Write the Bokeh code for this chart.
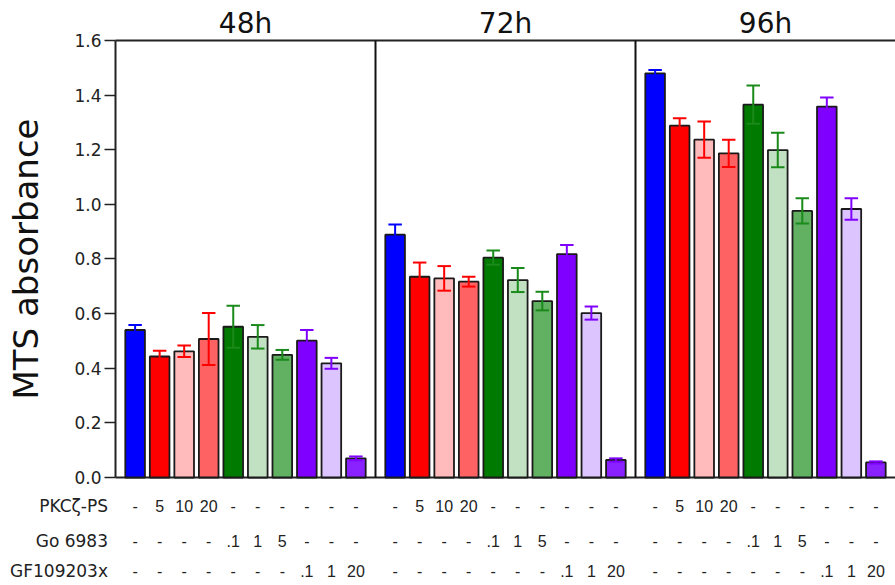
import math
from bokeh.plotting import figure
from bokeh.models import Range1d, FixedTicker, ColumnDataSource, NumeralTickFormatter
from bokeh.core.properties import value
from bokeh.embed import file_html
from bokeh.resources import INLINE

# ---------------- data ----------------
panels = ["48h", "72h", "96h"]
conditions = ["Control", "PKCζ-PS 5", "PKCζ-PS 10", "PKCζ-PS 20",
              "Go 6983 .1", "Go 6983 1", "Go 6983 5",
              "GF109203x .1", "GF109203x 1", "GF109203x 20"]
means_48 = [0.540, 0.443, 0.462, 0.507, 0.552, 0.515, 0.449, 0.501, 0.418, 0.070]
err_48 = [0.018, 0.021, 0.021, 0.095, 0.077, 0.043, 0.018, 0.039, 0.020, 0.007]
means_72 = [0.889, 0.735, 0.729, 0.717, 0.805, 0.723, 0.646, 0.818, 0.602, 0.064]
err_72 = [0.037, 0.052, 0.045, 0.018, 0.026, 0.044, 0.034, 0.033, 0.024, 0.006]
means_96 = [1.480, 1.288, 1.237, 1.187, 1.365, 1.199, 0.976, 1.358, 0.983, 0.055]
err_96 = [0.012, 0.027, 0.066, 0.050, 0.070, 0.063, 0.046, 0.033, 0.039, 0.004]

row_names = ["PKCζ-PS", "Go 6983", "GF109203x"]
pkc_doses = ["-", "5", "10", "20", "-", "-", "-", "-", "-", "-"]
go_doses = ["-", "-", "-", "-", ".1", "1", "5", "-", "-", "-"]
gf_doses = ["-", "-", "-", "-", "-", "-", "-", ".1", "1", "20"]

y_ticks = [0.0, 0.2, 0.4, 0.6, 0.8, 1.0, 1.2, 1.4, 1.6]
y_label = "MTS absorbance"

# ---------------- styles / layout ----------------
fill_colors = ["#0000FF", "#FF0000", "#FFBBBB", "#FF6262", "#007A00",
               "#C2E0C2", "#62B062", "#7F00FF", "#DCC4FF", "#8A22FF"]
err_colors = ["#0000FF", "#FF0000", "#FF0000", "#FF0000", "#1A8A1A",
              "#1A8A1A", "#1A8A1A", "#7F00FF", "#7F00FF", "#7F00FF"]
PANEL_W = 10.6
OFFSET = 0.8
BAR_W = 0.8
CAP_W = 0.55
Y_MAX = 1.6
X_START = -4.6885
Y_START = -0.3955
Y_END = 1.7465
ROW_Y = [-0.106, -0.231, -0.341]
ROW_LABEL_X = -0.306
TITLE_Y = 1.664
YLABEL_X = -3.65
YLABEL_Y = 0.80

all_means = [means_48, means_72, means_96]
all_errs = [err_48, err_72, err_96]
all_doses = [pkc_doses, go_doses, gf_doses]

xs, tops, cols, ecols, lo, hi = [], [], [], [], [], []
for pi, (m, e) in enumerate(zip(all_means, all_errs)):
    for k in range(len(conditions)):
        x = pi * PANEL_W + OFFSET + k
        xs.append(x)
        tops.append(m[k])
        cols.append(fill_colors[k])
        ecols.append(err_colors[k])
        lo.append(m[k] - e[k])
        hi.append(m[k] + e[k])

src = ColumnDataSource(dict(x=xs, top=tops, color=cols, ecolor=ecols, lo=lo, hi=hi,
                            cl=[x - CAP_W / 2 for x in xs], cr=[x + CAP_W / 2 for x in xs]))

p = figure(width=895, height=585, x_range=Range1d(X_START, 3 * PANEL_W), y_range=Range1d(Y_START, Y_END),
           output_backend="svg", toolbar_location=None, x_axis_location=None,
           min_border_left=0, min_border_right=0, min_border_top=0, min_border_bottom=0)
p.outline_line_color = None
p.xgrid.visible = False
p.ygrid.visible = False
p.background_fill_color = "white"
p.border_fill_color = "white"

yax = p.yaxis[0]
yax.fixed_location = 0
yax.bounds = (0, Y_MAX)
yax.ticker = FixedTicker(ticks=y_ticks)
yax.formatter = NumeralTickFormatter(format="0.0")
yax.minor_tick_line_color = None
yax.major_tick_in = 0
yax.major_tick_out = 11
yax.major_tick_line_width = 1.5
yax.major_tick_line_color = "#222222"
yax.axis_line_width = 2
yax.axis_line_color = "#222222"
yax.major_label_text_font = "DejaVu Sans"
yax.major_label_text_font_size = "17px"
yax.major_label_text_color = "#222222"
yax.major_label_standoff = 3

# frame lines
p.segment(x0=[0, 0], y0=[0, Y_MAX], x1=[3 * PANEL_W, 3 * PANEL_W], y1=[0, Y_MAX],
          line_color="#222222", line_width=2)
p.segment(x0=[PANEL_W, 2 * PANEL_W], y0=[0, 0], x1=[PANEL_W, 2 * PANEL_W], y1=[Y_MAX, Y_MAX],
          line_color="#111111", line_width=2)

# bars
p.vbar(x="x", top="top", bottom=0, width=BAR_W, source=src, fill_color="color",
       line_color="#1A1A1A", line_width=1.8)
# error bars
p.segment(x0="x", y0="lo", x1="x", y1="hi", source=src, line_color="ecolor", line_width=2)
p.segment(x0="cl", y0="hi", x1="cr", y1="hi", source=src, line_color="ecolor", line_width=2)
p.segment(x0="cl", y0="lo", x1="cr", y1="lo", source=src, line_color="ecolor", line_width=2)

# y axis title
p.text(x=[YLABEL_X], y=[YLABEL_Y], text=[y_label], angle=math.pi / 2,
       text_align="center", text_baseline="middle", text_font=value("DejaVu Sans"),
       text_font_size="34px", text_color="#111111")

# panel titles
p.text(x=[(i + 0.5) * PANEL_W for i in range(3)], y=[TITLE_Y] * 3, text=panels,
       text_align="center", text_baseline="middle", text_font=value("DejaVu Sans"),
       text_font_size="28px", text_color="#111111")

# dose table
p.text(x=[ROW_LABEL_X] * 3, y=ROW_Y, text=row_names, text_align="right", text_baseline="middle",
       text_font=value("DejaVu Sans"), text_font_size="17px", text_color="#222222")
for r, doses in enumerate(all_doses):
    tx, tt = [], []
    for pi in range(3):
        for k in range(len(conditions)):
            tx.append(pi * PANEL_W + OFFSET + k)
            tt.append(doses[k])
    p.text(x=tx, y=[ROW_Y[r]] * len(tx), text=tt, text_align="center", text_baseline="middle",
           text_font=value("Liberation Sans"), text_font_size="16px", text_color="#222222")

open("out.html", "w").write(file_html(p, INLINE))
